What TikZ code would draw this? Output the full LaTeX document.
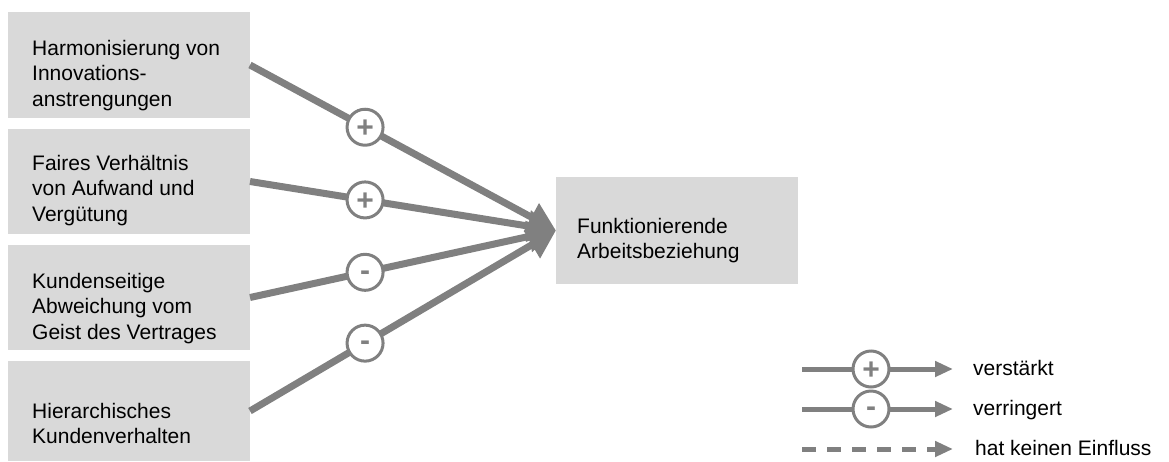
\documentclass[tikz,border=0pt]{standalone}
\usepackage{fontspec}
\setmainfont{Liberation Sans}
\usetikzlibrary{arrows.meta}
\definecolor{boxgray}{HTML}{D9D9D9}
\definecolor{linegray}{HTML}{808080}
\newcommand{\plussign}{\raisebox{-1.5pt}[\height][0pt]{+}}
\newcommand{\minussign}{\raisebox{-3pt}[\height][0pt]{-}}
\begin{document}
\begin{tikzpicture}[x=1pt,y=-1pt,
  font=\fontsize{21}{25.5}\selectfont,
  box/.style={fill=boxgray, draw=none, minimum width=242pt, anchor=north west, inner sep=0pt, outer sep=0pt},
  txt/.style={anchor=north west, align=left, inner sep=0pt, text=black},
  sign/.style={circle, draw=linegray, fill=white, line width=3pt, minimum size=36pt, inner sep=0pt,
    text=linegray, font=\fontsize{30}{30}\selectfont\bfseries},
  conn/.style={draw=linegray, line width=7pt, -{Triangle[length=28pt,width=30pt]}},
  leg/.style={draw=linegray, line width=5pt, -{Triangle[length=18pt,width=15pt]}},
  legtxt/.style={anchor=base west, inner sep=0pt, text=black}]
\useasboundingbox (0,0) rectangle (1169,461);

% boxes
\node[box, minimum height=106pt] (b1) at (8,12) {};
\node[box, minimum height=105pt] (b2) at (8,129) {};
\node[box, minimum height=105pt] (b3) at (8,245) {};
\node[box, minimum height=100pt] (b4) at (8,361) {};
\node[box, minimum height=107pt] (tgt) at (556,177) {};

% texts
\node[txt] (t1) at (32,40) {Harmonisierung von\\Innovations-\\anstrengungen};
\node[txt] (t2) at (32,155) {Faires Verhältnis\\von Aufwand und\\Vergütung};
\node[txt] (t3) at (32,273) {Kundenseitige\\Abweichung vom\\Geist des Vertrages};
\node[txt] (t4) at (32,403) {Hierarchisches\\Kundenverhalten};
\node[txt] (tt) at (577,218) {Funktionierende\\Arbeitsbeziehung};

% connectors
\draw[conn] (b1.east) -- node[sign,pos=0.376] (s1) {\plussign} (tgt.west);
\draw[conn] (b2.east) -- node[sign,pos=0.376] (s2) {\plussign} (tgt.west);
\draw[conn] (b3.east) -- node[sign,pos=0.376] (s3) {\minussign} (tgt.west);
\draw[conn] (b4.east) -- node[sign,pos=0.376] (s4) {\minussign} (tgt.west);

% legend
\coordinate (l1a) at (802,369); \coordinate (l1b) at (953,369);
\coordinate (l2a) at (802,409); \coordinate (l2b) at (953,409);
\coordinate (l3a) at (802,449); \coordinate (l3b) at (953,449);
\draw[leg] (l1a) -- node[sign,pos=0.457] (ls1) {\plussign} (l1b);
\draw[leg] (l2a) -- node[sign,pos=0.457] (ls2) {\minussign} (l2b);
\draw[leg, dash pattern=on 14pt off 11pt] (l3a) -- (l3b);
\node[legtxt] (lt1) at (973,375) {verstärkt};
\node[legtxt] (lt2) at (973,415) {verringert};
\node[legtxt] (lt3) at (975,455) {hat keinen Einfluss};
\end{tikzpicture}
\end{document}
